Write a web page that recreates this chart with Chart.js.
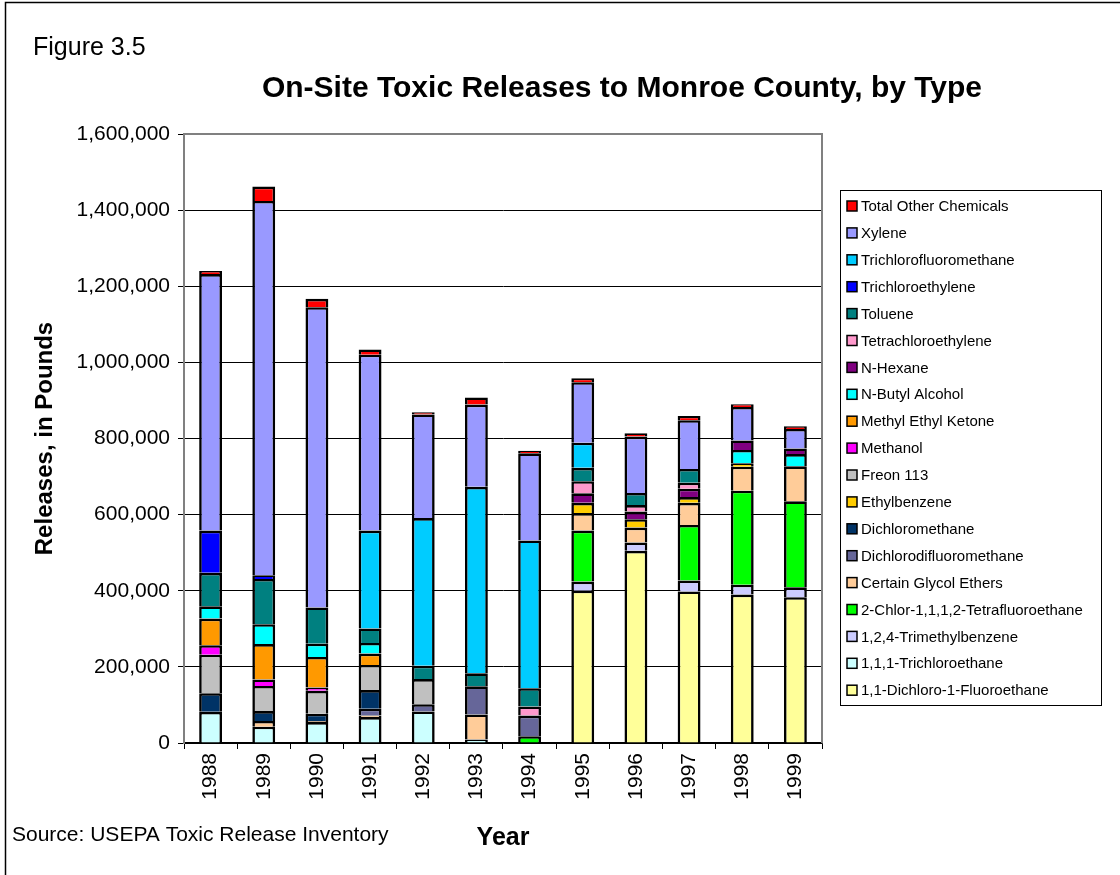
<!DOCTYPE html>
<html>
<head>
<meta charset="utf-8">
<title>On-Site Toxic Releases to Monroe County, by Type</title>
<script src="https://cdn.jsdelivr.net/npm/chart.js@4.4.1/dist/chart.umd.min.js"></script>
<style>
  html, body { margin: 0; padding: 0; background: #ffffff; }
  #wrap { position: relative; width: 1120px; height: 875px; }
  canvas { display: block; }
</style>
</head>
<body>
<div id="wrap"><canvas id="chart" width="1120" height="875"></canvas></div>
<script>
// Reporting years
const years = ['1988', '1989', '1990', '1991', '1992', '1993', '1994', '1995', '1996', '1997', '1998', '1999'];

// Pounds released on site, one array per chemical (stacked bottom to top)
const dichloroFluoroethane   = [0, 0, 0, 0, 0, 0, 0, 400000, 505000, 398000, 390000, 383000];
const trichloroethane111     = [82000, 43000, 55000, 68000, 83000, 9000, 0, 0, 0, 0, 0, 0];
const trimethylbenzene124    = [0, 0, 0, 0, 0, 0, 0, 24000, 22000, 29000, 26000, 26000];
const chlorTetrafluoroethane = [0, 0, 0, 0, 0, 0, 18000, 134000, 0, 146000, 247000, 226000];
const glycolEthers           = [0, 15000, 3000, 4000, 0, 66000, 0, 46000, 39000, 58000, 63000, 92000];
const dichlorodifluoromethane = [0, 0, 0, 18000, 19000, 74000, 54000, 0, 0, 0, 0, 0];
const dichloromethane        = [49000, 26000, 19000, 49000, 0, 0, 0, 0, 0, 0, 0, 0];
const ethylbenzene           = [0, 0, 0, 0, 0, 0, 0, 27000, 22000, 15000, 9000, 0];
const freon113               = [101000, 66000, 60000, 66000, 66000, 0, 0, 0, 0, 0, 0, 0];
const methanol               = [25000, 17000, 9000, 0, 0, 0, 0, 0, 0, 0, 0, 0];
const methylEthylKetone      = [70000, 93000, 80000, 30000, 0, 0, 0, 0, 0, 0, 0, 0];
const nButylAlcohol          = [32000, 52000, 35000, 28000, 0, 0, 0, 0, 0, 0, 35000, 32000];
const nHexane                = [0, 0, 0, 0, 0, 0, 0, 25000, 20000, 22000, 25000, 15000];
const tetrachloroethylene    = [0, 0, 0, 0, 0, 0, 24000, 32000, 17000, 16000, 0, 0];
const toluene                = [88000, 119000, 95000, 38000, 35000, 34000, 48000, 35000, 32000, 36000, 0, 0];
const trichloroethylene      = [111000, 10000, 0, 0, 0, 0, 0, 0, 0, 0, 0, 0];
const trichlorofluoromethane = [0, 0, 0, 257000, 388000, 490000, 388000, 66000, 0, 0, 0, 0];
const xylene                 = [674000, 983000, 789000, 462000, 272000, 216000, 229000, 159000, 148000, 128000, 88000, 51000];
const totalOther             = [8000, 38000, 22000, 14000, 6000, 19000, 7000, 10000, 9000, 11000, 7000, 7000];

// Y axis range and step
const yMax = 1600000;
const yStep = 200000;

const FONT = '"Liberation Sans", Arial, Helvetica, sans-serif';

const series = [
  ['1,1-Dichloro-1-Fluoroethane', dichloroFluoroethane, '#FFFF99'],
  ['1,1,1-Trichloroethane', trichloroethane111, '#CCFFFF'],
  ['1,2,4-Trimethylbenzene', trimethylbenzene124, '#CCCCFF'],
  ['2-Chlor-1,1,1,2-Tetrafluoroethane', chlorTetrafluoroethane, '#00FF00'],
  ['Certain Glycol Ethers', glycolEthers, '#FFCC99'],
  ['Dichlorodifluoromethane', dichlorodifluoromethane, '#666699'],
  ['Dichloromethane', dichloromethane, '#003366'],
  ['Ethylbenzene', ethylbenzene, '#FFCC00'],
  ['Freon 113', freon113, '#C0C0C0'],
  ['Methanol', methanol, '#FF00FF'],
  ['Methyl Ethyl Ketone', methylEthylKetone, '#FF9900'],
  ['N-Butyl Alcohol', nButylAlcohol, '#00FFFF'],
  ['N-Hexane', nHexane, '#800080'],
  ['Tetrachloroethylene', tetrachloroethylene, '#FF99CC'],
  ['Toluene', toluene, '#008080'],
  ['Trichloroethylene', trichloroethylene, '#0000FF'],
  ['Trichlorofluoromethane', trichlorofluoromethane, '#00CCFF'],
  ['Xylene', xylene, '#9999FF'],
  ['Total Other Chemicals', totalOther, '#FF0000']
];

const datasets = series.map(([label, data, color]) => ({
  label: label,
  data: data,
  backgroundColor: color,
  borderColor: '#000000',
  borderWidth: 2.6,
  barPercentage: 0.43,
  categoryPercentage: 1.0
}));

// Frame, headings, plot border and the boxed legend
const decorations = {
  id: 'decorations',
  beforeDatasetsDraw(chart) {
    const { ctx, chartArea: a } = chart;
    ctx.save();
    ctx.strokeStyle = '#808080';
    ctx.lineWidth = 2;
    ctx.beginPath();
    ctx.moveTo(a.left, a.top);
    ctx.lineTo(a.right, a.top);
    ctx.lineTo(a.right, a.bottom);
    ctx.stroke();
    ctx.restore();
  },
  afterDraw(chart) {
    const { ctx } = chart;
    ctx.save();
    // outer frame
    ctx.strokeStyle = '#000000';
    ctx.lineWidth = 1.5;
    ctx.beginPath();
    ctx.moveTo(5.5, 875);
    ctx.lineTo(5.5, 2.5);
    ctx.lineTo(1120, 2.5);
    ctx.stroke();

    ctx.fillStyle = '#000000';
    ctx.textBaseline = 'alphabetic';
    ctx.textAlign = 'left';
    ctx.font = '25px ' + FONT;
    ctx.fillText('Figure 3.5', 33, 55);

    ctx.textAlign = 'center';
    ctx.font = 'bold 30px ' + FONT;
    ctx.fillText('On-Site Toxic Releases to Monroe County, by Type', 622, 97);

    ctx.textAlign = 'left';
    ctx.font = '21px ' + FONT;
    ctx.fillText('Source: USEPA Toxic Release Inventory', 12, 841);

    // legend box
    const lx = 840, ly = 190, lw = 261, lh = 515;
    ctx.strokeStyle = '#000000';
    ctx.lineWidth = 1;
    ctx.strokeRect(lx + 0.5, ly + 0.5, lw, lh);
    ctx.font = '15px ' + FONT;
    ctx.textBaseline = 'middle';
    const ds = chart.data.datasets.slice().reverse();
    ds.forEach((d, i) => {
      const cy = 206 + i * 26.9;
      ctx.fillStyle = d.backgroundColor;
      ctx.fillRect(847, cy - 5, 10, 10);
      ctx.lineWidth = 1.5;
      ctx.strokeStyle = '#000000';
      ctx.strokeRect(847, cy - 5, 10, 10);
      ctx.fillStyle = '#000000';
      ctx.fillText(d.label, 861, cy + 1);
    });
    ctx.restore();
  }
};

new Chart(document.getElementById('chart'), {
  type: 'bar',
  data: { labels: years, datasets: datasets },
  plugins: [decorations],
  options: {
    responsive: false,
    animation: false,
    devicePixelRatio: 1,
    layout: { padding: { left: 0, top: 134, right: 298, bottom: 0 } },
    plugins: {
      legend: { display: false },
      tooltip: { enabled: false },
      title: { display: false }
    },
    scales: {
      x: {
        stacked: true,
        grid: { display: true, drawOnChartArea: false, drawTicks: true, tickLength: 6, color: '#000000', offset: true },
        border: { display: true, color: '#000000', width: 1.5 },
        ticks: { minRotation: 90, maxRotation: 90, autoSkip: false, color: '#000000', padding: 4, font: { family: FONT, size: 21 } },
        title: { display: true, text: 'Year', color: '#000000', font: { family: FONT, size: 25, weight: 'bold' }, padding: { top: 0, bottom: 22 } },
        afterFit(scale) { scale.height = 132; }
      },
      y: {
        stacked: true,
        min: 0,
        max: yMax,
        grid: { color: '#000000', lineWidth: 1, tickLength: 6, drawTicks: true },
        border: { display: true, color: '#808080', width: 2 },
        ticks: {
          stepSize: yStep,
          color: '#000000',
          padding: 8,
          font: { family: FONT, size: 21 },
          callback: (v) => Number(v).toLocaleString('en-US')
        },
        title: { display: true, text: 'Releases, in Pounds', color: '#000000', font: { family: FONT, size: 24, weight: 'bold' }, padding: { top: 31, bottom: 0 } },
        afterFit(scale) { scale.width = 184; }
      }
    }
  }
});
</script>
</body>
</html>
